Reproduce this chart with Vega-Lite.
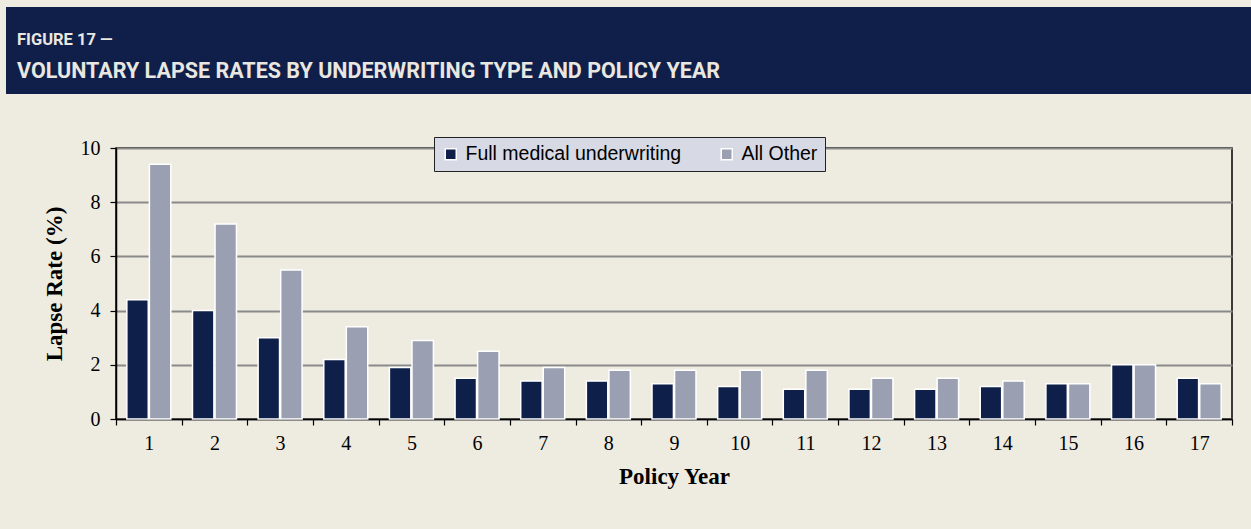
{
  "$schema": "https://vega.github.io/schema/vega-lite/v6.json",
  "background": "#EEEBE0",
  "padding": {"left": 6, "top": 7, "right": 0, "bottom": 49},
  "config": {"view": {"stroke": null}, "concat": {"spacing": 43}},
  "spacing": 43,
  "vconcat": [
    {
      "width": 1245,
      "height": 87,
      "view": {"fill": "#0F1F4A", "stroke": null},
      "data": {"values": [
        {"line": 1, "text": "FIGURE 17 —"},
        {"line": 2, "text": "VOLUNTARY LAPSE RATES BY UNDERWRITING TYPE AND POLICY YEAR"}
      ]},
      "encoding": {
        "x": {"datum": 0, "type": "quantitative", "scale": {"domain": [0, 1], "nice": false, "zero": false}, "axis": null},
        "y": {"field": "line", "type": "quantitative", "scale": {"domain": [-0.15, 2.48], "reverse": true, "nice": false, "zero": false}, "axis": null},
        "text": {"field": "text"}
      },
      "layer": [
        {
          "transform": [{"filter": "datum.line == 1"}],
          "mark": {"type": "text", "align": "left", "baseline": "alphabetic", "dx": 11, "font": "Roboto", "fontWeight": "bold", "fontSize": 16.5, "color": "#E9E7E0"}
        },
        {
          "transform": [{"filter": "datum.line == 2"}],
          "mark": {"type": "text", "align": "left", "baseline": "alphabetic", "dx": 11, "font": "Roboto", "fontWeight": "bold", "fontSize": 21.5, "color": "#E9E7E0"}
        }
      ]
    },
    {
      "spacing": 0,
      "hconcat": [
        {
          "width": 1,
          "height": 271,
          "data": {"values": []},
          "mark": {"type": "point", "opacity": 0}
        },
        {
          "width": 1116,
          "height": 271,
          "view": {"stroke": "#000000", "strokeWidth": 1.5},
          "data": {"values": [
            {"year": 1, "type": "Full medical underwriting", "rate": 4.4},
            {"year": 1, "type": "All Other", "rate": 9.4},
            {"year": 2, "type": "Full medical underwriting", "rate": 4.0},
            {"year": 2, "type": "All Other", "rate": 7.2},
            {"year": 3, "type": "Full medical underwriting", "rate": 3.0},
            {"year": 3, "type": "All Other", "rate": 5.5},
            {"year": 4, "type": "Full medical underwriting", "rate": 2.2},
            {"year": 4, "type": "All Other", "rate": 3.4},
            {"year": 5, "type": "Full medical underwriting", "rate": 1.9},
            {"year": 5, "type": "All Other", "rate": 2.9},
            {"year": 6, "type": "Full medical underwriting", "rate": 1.5},
            {"year": 6, "type": "All Other", "rate": 2.5},
            {"year": 7, "type": "Full medical underwriting", "rate": 1.4},
            {"year": 7, "type": "All Other", "rate": 1.9},
            {"year": 8, "type": "Full medical underwriting", "rate": 1.4},
            {"year": 8, "type": "All Other", "rate": 1.8},
            {"year": 9, "type": "Full medical underwriting", "rate": 1.3},
            {"year": 9, "type": "All Other", "rate": 1.8},
            {"year": 10, "type": "Full medical underwriting", "rate": 1.2},
            {"year": 10, "type": "All Other", "rate": 1.8},
            {"year": 11, "type": "Full medical underwriting", "rate": 1.1},
            {"year": 11, "type": "All Other", "rate": 1.8},
            {"year": 12, "type": "Full medical underwriting", "rate": 1.1},
            {"year": 12, "type": "All Other", "rate": 1.5},
            {"year": 13, "type": "Full medical underwriting", "rate": 1.1},
            {"year": 13, "type": "All Other", "rate": 1.5},
            {"year": 14, "type": "Full medical underwriting", "rate": 1.2},
            {"year": 14, "type": "All Other", "rate": 1.4},
            {"year": 15, "type": "Full medical underwriting", "rate": 1.3},
            {"year": 15, "type": "All Other", "rate": 1.3},
            {"year": 16, "type": "Full medical underwriting", "rate": 2.0},
            {"year": 16, "type": "All Other", "rate": 2.0},
            {"year": 17, "type": "Full medical underwriting", "rate": 1.5},
            {"year": 17, "type": "All Other", "rate": 1.3}
          ]},
          "mark": {"type": "bar", "stroke": "#FFFFFF", "strokeWidth": 1.5},
          "encoding": {
            "x": {
              "field": "year", "type": "ordinal",
              "scale": {"paddingInner": 0, "paddingOuter": 0},
              "axis": {
                "title": "Policy Year", "labelAngle": 0, "tickBand": "extent", "tickSize": 6, "tickColor": "#000000", "tickWidth": 1.2,
                "domainColor": "#000000", "domainWidth": 1.5, "grid": false,
                "labelFont": "Liberation Serif", "labelFontSize": 20, "labelColor": "#000000", "labelPadding": 8,
                "titleFont": "Liberation Serif", "titleFontSize": 23, "titleFontWeight": "bold", "titleColor": "#000000", "titlePadding": 12
              }
            },
            "xOffset": {
              "field": "type", "type": "nominal",
              "sort": ["Full medical underwriting", "All Other"],
              "scale": {"paddingInner": 0.05, "paddingOuter": 0.48}
            },
            "y": {
              "field": "rate", "type": "quantitative",
              "scale": {"domain": [0, 10], "nice": false},
              "axis": {
                "title": "Lapse Rate (%)", "values": [0, 2, 4, 6, 8, 10],
                "grid": true, "gridColor": "#8A8A8A", "gridWidth": 2,
                "tickSize": 6, "tickColor": "#000000", "tickWidth": 1.2,
                "domainColor": "#000000", "domainWidth": 1.5,
                "labelFont": "Liberation Serif", "labelFontSize": 20, "labelColor": "#000000", "labelPadding": 10,
                "titleFont": "Liberation Serif", "titleFontSize": 23, "titleFontWeight": "bold", "titleColor": "#000000",
                "minExtent": 108, "titleX": -50
              }
            },
            "color": {
              "field": "type", "type": "nominal",
              "sort": ["Full medical underwriting", "All Other"],
              "scale": {"domain": ["Full medical underwriting", "All Other"], "range": ["#0E1F4A", "#9AA0B1"]},
              "legend": {
                "title": null, "orient": "none", "legendX": 428, "legendY": 130, "direction": "horizontal",
                "fillColor": "#D7DAE4", "strokeColor": "#222222", "padding": 7,
                "symbolType": "square", "symbolSize": 121, "symbolStrokeColor": "#FFFFFF", "symbolStrokeWidth": 1.5, "symbolOpacity": 1,
                "labelFont": "Liberation Sans", "labelFontSize": 19.5, "labelColor": "#000000", "labelLimit": 400, "labelOffset": 5,
                "columnPadding": 35
              }
            }
          }
        }
      ]
    }
  ]
}
